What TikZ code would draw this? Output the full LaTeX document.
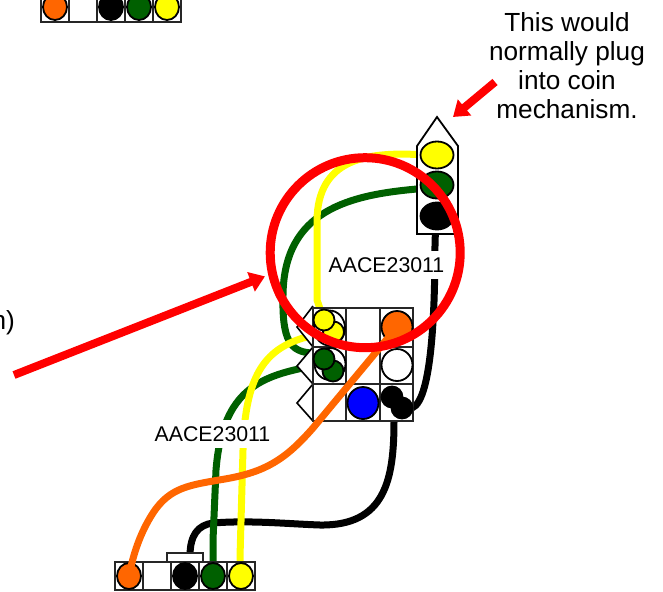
\documentclass[tikz,border=0pt]{standalone}
\usepackage{fontspec}
\setmainfont{Liberation Sans}
\usetikzlibrary{arrows.meta,shapes.geometric}
\pgfdeclarelayer{wires}
\pgfdeclarelayer{paper}
\pgfsetlayers{paper,wires,main}
\definecolor{wgreen}{RGB}{0,96,0}
\definecolor{worange}{RGB}{255,102,0}
\definecolor{wblue}{RGB}{0,0,255}
\definecolor{wred}{RGB}{255,0,0}
\definecolor{wyellow}{RGB}{255,255,0}
\tikzset{
  cell/.style={draw=black!85,line width=1.6pt,fill=white,rectangle,inner sep=0pt,minimum width=#1},
  cell/.default=28pt,
  wpin/.style={draw=black,line width=1.8pt,ellipse,inner sep=0pt,fill=#1,minimum width=24pt,minimum height=26pt},
  bigpin/.style={wpin=#1,minimum width=31pt,minimum height=32pt},
  smallpin/.style={wpin=#1,minimum width=21pt,minimum height=21pt},
  wire/.style={draw=#1,line width=7pt,line cap=butt},
  redline/.style={draw=wred,line width=8pt},
  redtip/.style={-{Triangle[length=15pt,width=20pt]}},
  lab/.style={font=\fontsize{21.3}{24}\selectfont,fill=white,inner xsep=1pt,inner ysep=6pt},
  note/.style={font=\fontsize{26.2}{29}\selectfont,align=center,inner sep=0pt},
}
\begin{document}
\begin{tikzpicture}[x=1pt,y=-1pt]
\useasboundingbox (0,0) rectangle (663,591);
\begin{pgfonlayer}{paper}
\fill[white] (0,0) rectangle (663,591);
\end{pgfonlayer}
% top connector
\node[cell,minimum height=28pt] (t1) at (55,8) {};
\node[cell,minimum height=28pt] (t2) at (83,8) {};
\node[cell,minimum height=28pt] (t3) at (111,8) {};
\node[cell,minimum height=28pt] (t4) at (139,8) {};
\node[cell,minimum height=28pt] (t5) at (167,8) {};
\node[wpin=worange] (tp1) at (55,7) {};
\node[wpin=black] (tp3) at (111,7) {};
\node[wpin=wgreen] (tp4) at (139,7) {};
\node[wpin=wyellow] (tp5) at (167,7) {};
% bottom connector
\node[cell=36pt,minimum height=9pt] (tab) at (185,557.5) {};
\node[cell,minimum height=28pt] (b1) at (129,576) {};
\node[cell,minimum height=28pt] (b2) at (157,576) {};
\node[cell,minimum height=28pt] (b3) at (185,576) {};
\node[cell,minimum height=28pt] (b4) at (213,576) {};
\node[cell,minimum height=28pt] (b5) at (241,576) {};
\node[wpin=worange] (bo) at (129,576) {};
\node[wpin=black] (bk) at (185,576) {};
\node[wpin=wgreen] (bg) at (213,576) {};
\node[wpin=wyellow] (by) at (241,576) {};
% plug
\draw[fill=white,draw=black,line width=1.8pt] (417,234) -- (417,146) -- (437,117) -- (458,146) -- (458,234) -- cycle;
\node[wpin=wyellow,minimum width=33pt,minimum height=27pt] (py) at (437,155) {};
\node[wpin=wgreen,minimum width=33pt,minimum height=27pt] (pg) at (437,185) {};
\node[wpin=black,minimum width=33pt,minimum height=27pt] (pk) at (437,216) {};
% socket tabs
\draw[fill=white,draw=black,line width=1.6pt] (313,306) -- (297,327) -- (313,347);
\draw[fill=white,draw=black,line width=1.6pt] (313,347) -- (297,366) -- (313,384);
\draw[fill=white,draw=black,line width=1.6pt] (313,384) -- (297,403) -- (313,421);
% socket grid
\node[cell=33.5pt,minimum height=39pt] (g11) at (329.7,327.5) {};
\node[cell=33.5pt,minimum height=39pt] (g12) at (363,327.5) {};
\node[cell=33.5pt,minimum height=39pt] (g13) at (396.5,327.5) {};
\node[cell=33.5pt,minimum height=37pt] (g21) at (329.7,365.5) {};
\node[cell=33.5pt,minimum height=37pt] (g22) at (363,365.5) {};
\node[cell=33.5pt,minimum height=37pt] (g23) at (396.5,365.5) {};
\node[cell=33.5pt,minimum height=37pt] (g31) at (329.7,402.5) {};
\node[cell=33.5pt,minimum height=37pt] (g32) at (363,402.5) {};
\node[cell=33.5pt,minimum height=37pt] (g33) at (396.5,402.5) {};
\node[bigpin=white,minimum height=35pt] (h1) at (329.5,328) {};
\node[smallpin=wyellow] (y2) at (333.5,332) {};
\node[smallpin=wyellow] (y1) at (324,320) {};
\node[bigpin=white] (h2) at (330,364) {};
\node[smallpin=wgreen] (g2) at (333,371) {};
\node[smallpin=wgreen] (g1) at (324,359) {};
\node[bigpin=worange] (so) at (397,327) {};
\node[bigpin=white] (sw) at (397,365) {};
\node[bigpin=wblue] (sb) at (363,403) {};
\node[smallpin=black] (k1) at (392,397) {};
\node[smallpin=black] (k2) at (402,408) {};
% wires
\begin{pgfonlayer}{wires}
\draw[wire=black] (pk.center) -- (435,240) .. controls (435,300) and (433,400) .. (412,408) -- (k2.center);
\draw[wire=black] (k2.center) -- (394,421) .. controls (394,480) and (385,526) .. (320,525) .. controls (290,524) and (250,520) .. (213,523) .. controls (198,525) and (190,535) .. (190,556) -- (bk.center);
\draw[wire=wgreen] (pg.center) -- (417,189) .. controls (350,195) and (284,210) .. (283,295) .. controls (282,340) and (290,352) .. (312,353) -- (g1.center);
\draw[wire=wgreen] (g2.center) -- (303,368) .. controls (255,378) and (222,395) .. (216,470) -- (213,540) -- (bg.center);
\draw[wire=wyellow] (py.center) -- (417,154.5) .. controls (365,152) and (318,160) .. (317,220) -- (317,300) -- (y1.center);
\draw[wire=wyellow] (y2.center) -- (303,338) .. controls (265,350) and (245,375) .. (243,450) -- (240,557) -- (by.center);
\end{pgfonlayer}
\draw[wire=worange] (so.center) -- (313,428) .. controls (285,460) and (265,472) .. (225,479) .. controls (190,485) and (170,487) .. (153,513) .. controls (140,533) and (133,555) .. (bo.center);
% labels
\node[lab] (l1) at (386.5,265) {AACE23011};
\node[lab] (l2) at (212.5,434) {AACE23011};
\node[note,anchor=center] (n1) at (567,66) {This would\\normally plug\\into coin\\mechanism.};
\node[note,anchor=east] (n2) at (15,323) {n)};
% red marks
\node[circle,draw=wred,line width=9pt,minimum size=190pt,inner sep=0pt] (ring) at (365.2,252.7) {};
\coordinate (a1) at (14,375);
\coordinate (a2) at (495,82);
\coordinate (a3) at (453,117);
\draw[redline,redtip,shorten >=3.5pt] (a1) -- (ring.193);
\draw[redline,redtip] (a2) -- (a3);
\end{tikzpicture}
\end{document}
